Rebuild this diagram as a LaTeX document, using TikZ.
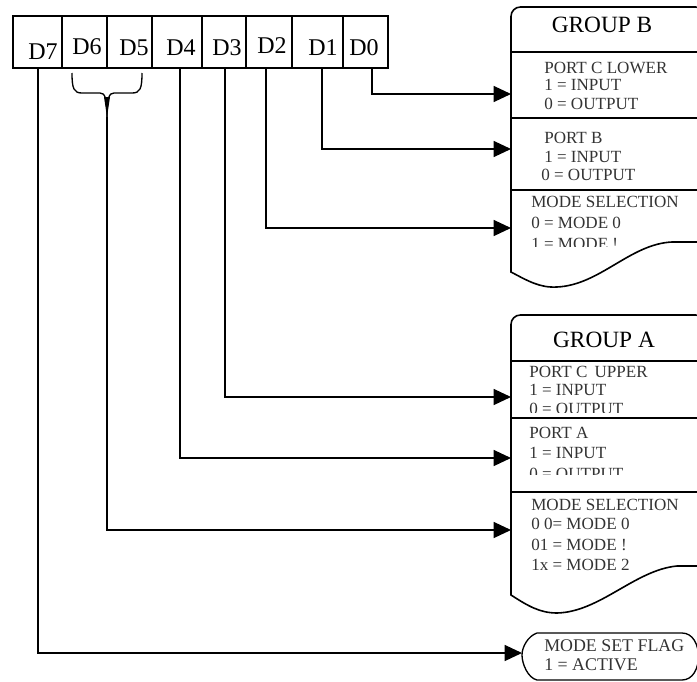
\documentclass[tikz,border=0pt]{standalone}
\usepackage{fontspec}
\setmainfont{Liberation Serif}
\usetikzlibrary{arrows.meta}

\tikzset{
  flow/.style={line width=1pt, -{Triangle[length=13pt,width=12pt]}},
  bitlbl/.style={inner sep=0.75pt, font=\fontsize{18}{20}\selectfont},
  grplbl/.style={anchor=base, inner sep=0.75pt, font=\fontsize{17.5}{20}\selectfont},
  txt/.style={anchor=west, inner sep=0.75pt, text=black!80, font=\fontsize{12.8}{14}\selectfont},
}

\begin{document}
\begin{tikzpicture}[x=0.75pt,y=0.75pt,yscale=-1,xscale=1]
\useasboundingbox (0,0) rectangle (697,682);

%Shape: Register
\draw  [line width=2pt] (13,16) rectangle (388,68) ;
\foreach \xx in {62,107,152,202,246,292,343}
  \draw  [line width=0.8pt] (\xx,16) -- (\xx,68) ;

% Text Node
\node [bitlbl] (d7) at (43,52) {D7};
\node [bitlbl] (d6) at (87,47) {D6};
\node [bitlbl] (d5) at (134,48) {D5};
\node [bitlbl] (d4) at (181,48) {D4};
\node [bitlbl] (d3) at (227,48) {D3};
\node [bitlbl] (d2) at (272,46) {D2};
\node [bitlbl] (d1) at (323,48) {D1};
\node [bitlbl] (d0) at (364,48) {D0};

%Shape: Brace
\draw  [line width=1pt] (72,73) .. controls (72,89) and (74,93) .. (82,93) -- (100,93) .. controls (105,93) and (107,98) .. (107,117) ;
\draw  [line width=1pt] (142,73) .. controls (142,89) and (140,93) .. (132,93) -- (114,93) .. controls (109,93) and (107,98) .. (107,117) ;
\fill  (104,97) -- (110,97) -- (107,117) -- cycle ;

% line start points
\coordinate (d7s) at (38,68);
\coordinate (d65s) at (107,117);
\coordinate (d4s) at (180,68);
\coordinate (d3s) at (225,68);
\coordinate (d2s) at (266,68);
\coordinate (d1s) at (322,68);
\coordinate (d0s) at (372,68);

% arrow targets
\coordinate (pcl) at (511,94);
\coordinate (pb) at (511,149);
\coordinate (msb) at (511,228);
\coordinate (pcu) at (511,397);
\coordinate (pa) at (511,458);
\coordinate (msa) at (511,530);
\coordinate (msf) at (522,653);

%Shape: Group B
\draw  [line width=1.2pt, rounded corners=7pt] (511,52) -- (511,7) -- (705,7) -- (705,52) ;
\draw  [line width=1.2pt] (511,52) -- (705,52) ;
\draw  [line width=1.2pt] (511,52) -- (511,272) .. controls (528,281) and (540,288) .. (557,287) .. controls (600,285) and (630,244) .. (672,242) -- (705,242) ;
\draw  [line width=1pt] (511,118) -- (705,118) ;
\draw  [line width=1pt] (511,190) -- (705,190) ;

%Shape: Group A
\draw  [line width=1.2pt, rounded corners=7pt] (511,361) -- (511,315) -- (705,315) -- (705,361) ;
\draw  [line width=1.2pt] (511,361) -- (705,361) ;
\draw  [line width=1.2pt] (511,361) -- (511,595) .. controls (528,606) and (540,613) .. (557,613) .. controls (600,612) and (635,570) .. (677,566) -- (705,566) ;
\draw  [line width=1pt] (511,418) -- (705,418) ;
\draw  [line width=1pt] (511,492) -- (705,492) ;

%Shape: Mode set flag
\draw  [line width=1pt] (537,633) -- (682,633) .. controls (704,633) and (704,680) .. (682,680) -- (537,680) .. controls (528,678) and (522,664) .. (522,655) .. controls (522,647) and (528,636) .. (537,633) -- cycle ;

% Connectors
\draw  [flow] (d0s) |- (pcl) ;
\draw  [flow] (d1s) |- (pb) ;
\draw  [flow] (d2s) |- (msb) ;
\draw  [flow] (d3s) |- (pcu) ;
\draw  [flow] (d4s) |- (pa) ;
\draw  [flow] (d65s) |- (msa) ;
\draw  [flow] (d7s) |- (msf) ;

% Text Node
\node [grplbl] (grpb) at (602,32) {GROUP B};
\node [grplbl] (grpa) at (604,347) {GROUP A};

\node [txt] (pclt) at (543,68) {PORT C LOWER};
\node [txt] (pcli) at (543,85) {1 = INPUT};
\node [txt] (pclo) at (543,104) {0 = OUTPUT};
\node [txt] (pbt) at (543,138) {PORT B};
\node [txt] (pbi) at (543,157) {1 = INPUT};
\node [txt] (pbo) at (540,175) {0 = OUTPUT};
\node [txt] (msbt) at (530,202) {MODE SELECTION};
\node [txt] (msb0) at (530,223) {0 = MODE 0};
\begin{scope}
\clip (511,230) rectangle (705,246);
\node [txt] (msb1) at (530,244) {1 = MODE !};
\end{scope}

\node [txt] (pcut) at (528,372) {PORT C\, UPPER};
\node [txt] (pcui) at (528,390) {1 = INPUT};
\begin{scope}
\clip (511,395) rectangle (705,412);
\node [txt] (pcuo) at (528,409) {0 = OUTPUT};
\end{scope}
\node [txt] (pat) at (528,433) {PORT A};
\node [txt] (pai) at (528,453) {1 = INPUT};
\begin{scope}
\clip (511,460) rectangle (705,474);
\node [txt] (pao) at (528,474) {0 = OUTPUT};
\end{scope}
\node [txt] (msat) at (530,505) {MODE SELECTION};
\node [txt] (msa0) at (530,524) {0 0= MODE 0};
\node [txt] (msa1) at (530,545) {01 = MODE !};
\node [txt] (msa2) at (530,565) {1x = MODE 2};

\node [txt, font=\fontsize{13.4}{14}\selectfont] (msft) at (543,646) {MODE SET FLAG};
\node [txt, font=\fontsize{13.4}{14}\selectfont] (msfa) at (543,665) {1 = ACTIVE};

\end{tikzpicture}
\end{document}
